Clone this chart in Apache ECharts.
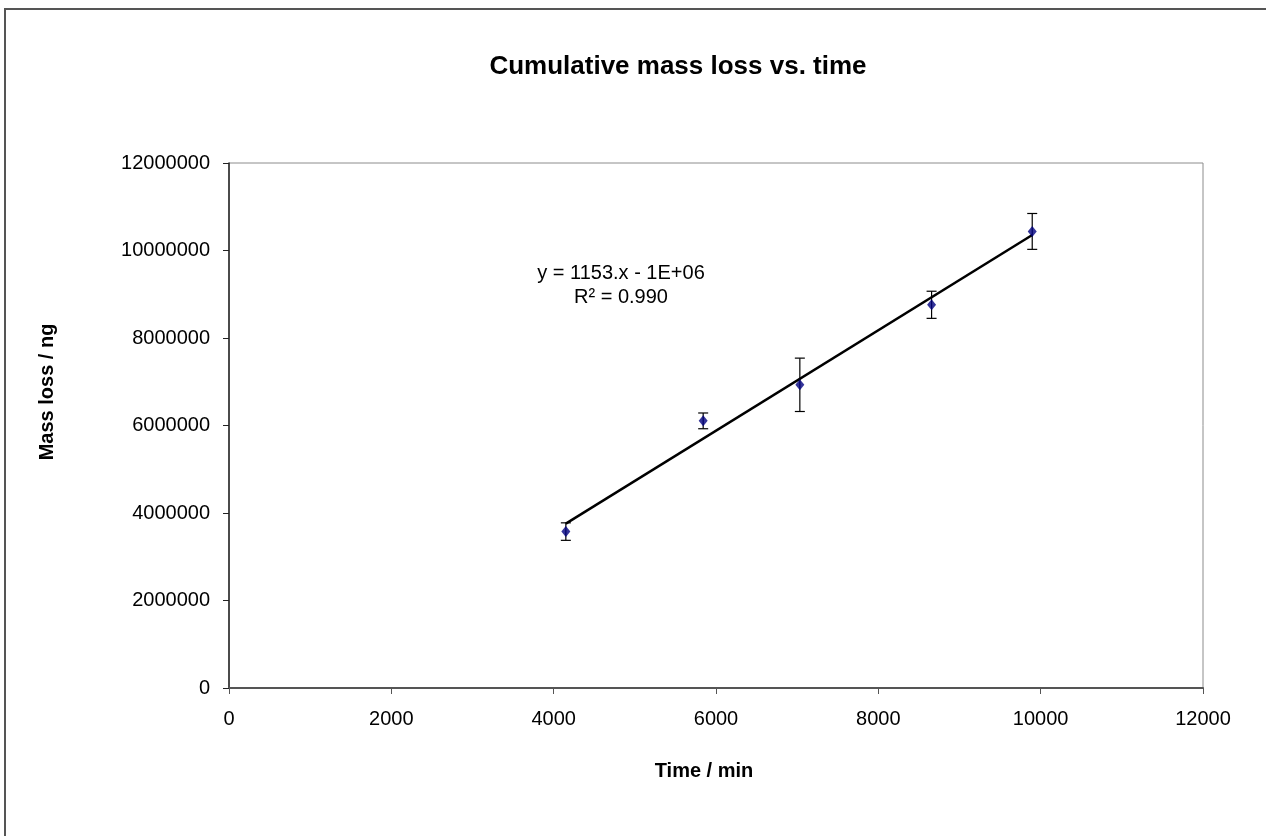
<!DOCTYPE html>
<html>
<head>
<meta charset="utf-8">
<script src="https://cdn.jsdelivr.net/npm/echarts@6/dist/echarts.min.js"></script>
<style>
html,body{margin:0;padding:0;background:#fff;}
#chart{width:1266px;height:836px;}
</style>
</head>
<body>
<div id="chart"></div>
<script>
// Data
var timeMin = [4150, 5842, 7033, 8656, 9896];
var massLoss = [3575000, 6106000, 6930000, 8759000, 10436000];
var massErr = [200000, 180000, 610000, 310000, 410000];
var xTicks = [0, 2000, 4000, 6000, 8000, 10000, 12000];
var yTicks = [0, 2000000, 4000000, 6000000, 8000000, 10000000, 12000000];
var equationText = 'y = 1153.x - 1E+06';
var r2Text = 'R² = 0.990';
var xTitle = 'Time / min';
var yTitle = 'Mass loss / ng';

// Linear least-squares trend line (as the spreadsheet trendline)
var n = timeMin.length, mx = 0, my = 0;
for (var i = 0; i < n; i++) { mx += timeMin[i]; my += massLoss[i]; }
mx /= n; my /= n;
var sxy = 0, sxx = 0;
for (var i = 0; i < n; i++) { sxy += (timeMin[i]-mx)*(massLoss[i]-my); sxx += (timeMin[i]-mx)*(timeMin[i]-mx); }
var slope = sxy/sxx, intercept = my - slope*mx;
var xMin = Math.min.apply(null, timeMin), xMax = Math.max.apply(null, timeMin);
var trend = [[xMin, slope*xMin+intercept], [xMax, slope*xMax+intercept]];

var points = timeMin.map(function(x, i){ return [x, massLoss[i]]; });
var errData = timeMin.map(function(x, i){ return [x, massLoss[i]-massErr[i], massLoss[i]+massErr[i]]; });

var FONT = '"Liberation Sans", Arial, sans-serif';
var chart = echarts.init(document.getElementById('chart'));
chart.setOption({
  animation: false,
  backgroundColor: '#fff',
  title: {
    text: 'Cumulative mass loss vs. time',
    left: 673, top: 49, textAlign: 'center',
    textStyle: { fontFamily: FONT, fontSize: 26, fontWeight: 'bold', color: '#000' }
  },
  grid: { left: 229, top: 163, right: 63, bottom: 148, show: true, borderColor: '#8c8c8c', borderWidth: 1, backgroundColor: '#fff' },
  xAxis: {
    type: 'value', min: 0, max: 12000, interval: 2000,
    axisLine: { show: true, onZero: false, lineStyle: { color: '#555', width: 2 } },
    axisTick: { show: true, length: 6, inside: false, lineStyle: { color: '#555', width: 1 } },
    axisLabel: { margin: 21, fontFamily: FONT, fontSize: 20, color: '#000',
      formatter: function(v){ return xTicks.indexOf(v) >= 0 ? String(v) : ''; } },
    splitLine: { show: false }
  },
  yAxis: {
    type: 'value', min: 0, max: 12000000, interval: 2000000,
    axisLine: { show: true, onZero: false, lineStyle: { color: '#222', width: 1.5 } },
    axisTick: { show: true, length: 6, inside: false, lineStyle: { color: '#222', width: 1 } },
    axisLabel: { margin: 19, fontFamily: FONT, fontSize: 20, color: '#000',
      formatter: function(v){ return yTicks.indexOf(v) >= 0 ? String(v) : ''; } },
    splitLine: { show: false }
  },
  graphic: [
    { type: 'rect', z: 100, silent: true,
      shape: { x: 5, y: 9, width: 1400, height: 1000 },
      style: { fill: null, stroke: '#555', lineWidth: 2 } },
    { type: 'text', silent: true, z: 100, x: 621, y: 261,
      style: { text: equationText + '\n' + r2Text, align: 'center', verticalAlign: 'top', textAlign: 'center', textVerticalAlign: 'top', font: '20px ' + FONT, fill: '#000', lineHeight: 24 } },
    { type: 'text', silent: true, z: 100, x: 704, y: 771,
      style: { text: xTitle, align: 'center', verticalAlign: 'middle', textAlign: 'center', textVerticalAlign: 'middle', font: 'bold 20px ' + FONT, fill: '#000' } },
    { type: 'text', silent: true, z: 100, x: 47, y: 392, rotation: Math.PI / 2,
      style: { text: yTitle, align: 'center', verticalAlign: 'middle', textAlign: 'center', textVerticalAlign: 'middle', font: 'bold 20px ' + FONT, fill: '#000' } }
  ],
  series: [
    {
      type: 'line', data: trend, showSymbol: false, symbol: 'none',
      lineStyle: { color: '#000', width: 2.5 }, z: 2, silent: true
    },
    {
      type: 'custom', data: errData, z: 3, silent: true,
      encode: { x: 0, y: [1, 2] },
      renderItem: function(params, api){
        var x = api.value(0);
        var lo = api.coord([x, api.value(1)]);
        var hi = api.coord([x, api.value(2)]);
        var hw = 5;
        var st = { stroke: '#000', lineWidth: 1.2 };
        return { type: 'group', children: [
          { type: 'line', shape: { x1: lo[0], y1: lo[1], x2: hi[0], y2: hi[1] }, style: st },
          { type: 'line', shape: { x1: lo[0]-hw, y1: lo[1], x2: lo[0]+hw, y2: lo[1] }, style: st },
          { type: 'line', shape: { x1: hi[0]-hw, y1: hi[1], x2: hi[0]+hw, y2: hi[1] }, style: st }
        ]};
      }
    },
    {
      type: 'scatter', data: points, symbol: 'diamond', symbolSize: [9, 11], z: 4,
      itemStyle: { color: '#000080' }
    }
  ]
});
</script>
</body>
</html>
